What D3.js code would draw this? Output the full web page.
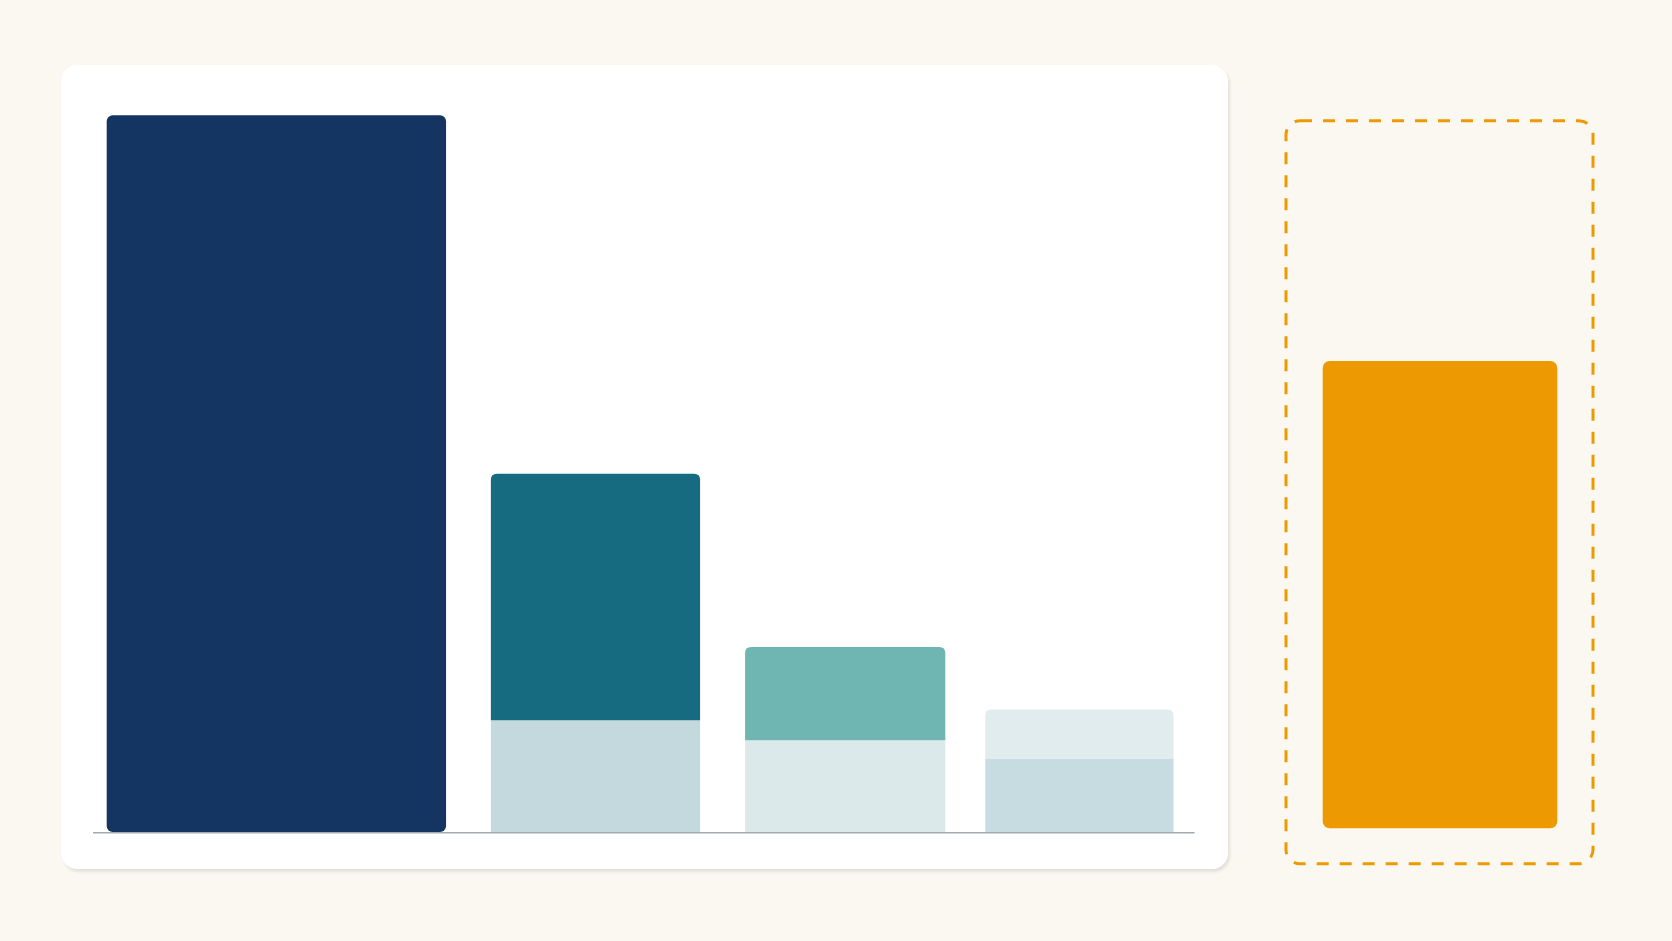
<!DOCTYPE html>
<html>
<head>
<meta charset="utf-8">
<script src="https://cdn.jsdelivr.net/npm/d3@7"></script>
<style>
  html, body { margin: 0; padding: 0; background: #fbf8f2; }
  svg { display: block; }
</style>
</head>
<body>
<svg id="chart" width="1672" height="941"></svg>
<script>
// ---- data ----
const categories = ["A", "B", "C", "D"];
const barWidths = [33.9, 20.9, 20.0, 18.8];        // relative bar widths
const lowerValues = [100, 15.6, 12.8, 10.2];       // lower segment (A is single)
const upperValues = [0, 34.4, 13.0, 6.9];          // upper segment
const upperColors = ["#143461", "#176b80", "#6fb6b3", "#e0ecee"];
const lowerColors = ["#143461", "#c3d9dd", "#dbe9ea", "#c6dce1"];
const highlightValue = [65.2];
const highlightColor = "#ed9a02";

const svg = d3.select("#chart");
const W = 1672, H = 941;

svg.append("rect").attr("width", W).attr("height", H).attr("fill", "#fbf8f2");

// shadow + panel
const defs = svg.append("defs");
const f = defs.append("filter").attr("id", "blur").attr("x", "-5%").attr("y", "-5%").attr("width", "110%").attr("height", "110%");
f.append("feGaussianBlur").attr("stdDeviation", 1.5);

const panel = { x: 61, y: 65, w: 1167, h: 804 };
svg.append("rect")
  .attr("x", panel.x + 2).attr("y", panel.y + 3)
  .attr("width", panel.w).attr("height", panel.h)
  .attr("rx", 16).attr("fill", "#e4e0da").attr("filter", "url(#blur)");
svg.append("rect")
  .attr("x", panel.x).attr("y", panel.y)
  .attr("width", panel.w).attr("height", panel.h)
  .attr("rx", 16).attr("fill", "#ffffff");

// scales
const baseY = 832;
const y = d3.scaleLinear().domain([0, 100]).range([baseY, 115.3]);
const totalW = d3.sum(barWidths);
const plotLeft = 106.7;
const gaps = [0, 44.8, 45, 40];
const xw = d3.scaleLinear().domain([0, totalW]).range([0, 937]);
const cum = barWidths.map((d, i) => d3.sum(barWidths.slice(0, i)));
const x0 = i => plotLeft + xw(cum[i]) + d3.sum(gaps.slice(0, i + 1));

function topRounded(x, yTop, w, h, r) {
  r = Math.min(r, h / 2, w / 2);
  return `M${x},${yTop + h}V${yTop + r}Q${x},${yTop} ${x + r},${yTop}` +
         `H${x + w - r}Q${x + w},${yTop} ${x + w},${yTop + r}V${yTop + h}Z`;
}

// baseline
svg.append("line")
  .attr("x1", 93).attr("x2", 1194.5)
  .attr("y1", baseY + 0.7).attr("y2", baseY + 0.7)
  .attr("stroke", "#a4a9ad").attr("stroke-width", 1.6);

const g = svg.append("g");
categories.forEach((c, i) => {
  const bx = x0(i), bw = xw(barWidths[i]);
  const lo = lowerValues[i], up = upperValues[i];
  if (up === 0) {
    g.append("rect")
      .attr("x", bx).attr("y", y(lo))
      .attr("width", bw).attr("height", y(0) - y(lo))
      .attr("rx", 6).attr("fill", lowerColors[i]);
  } else {
    g.append("rect")
      .attr("x", bx).attr("y", y(lo))
      .attr("width", bw).attr("height", y(0) - y(lo))
      .attr("fill", lowerColors[i]);
    g.append("path")
      .attr("d", topRounded(bx, y(lo + up), bw, y(lo) - y(lo + up), 6))
      .attr("fill", upperColors[i]);
  }
});

// highlight panel
const hBase = 828.3;
const yh = d3.scaleLinear().domain([0, 100]).range([hBase, hBase - (baseY - 115.3)]);
svg.append("rect")
  .attr("x", 1286).attr("y", 120.7)
  .attr("width", 1593 - 1286).attr("height", 863.7 - 120.7)
  .attr("rx", 14).attr("fill", "none")
  .attr("stroke", highlightColor).attr("stroke-width", 3)
  .attr("stroke-dasharray", "12 11");

highlightValue.forEach(v => {
  svg.append("rect")
    .attr("x", 1322.7).attr("y", yh(v))
    .attr("width", 1557.3 - 1322.7).attr("height", yh(0) - yh(v))
    .attr("rx", 7).attr("fill", highlightColor);
});
</script>
</body>
</html>
